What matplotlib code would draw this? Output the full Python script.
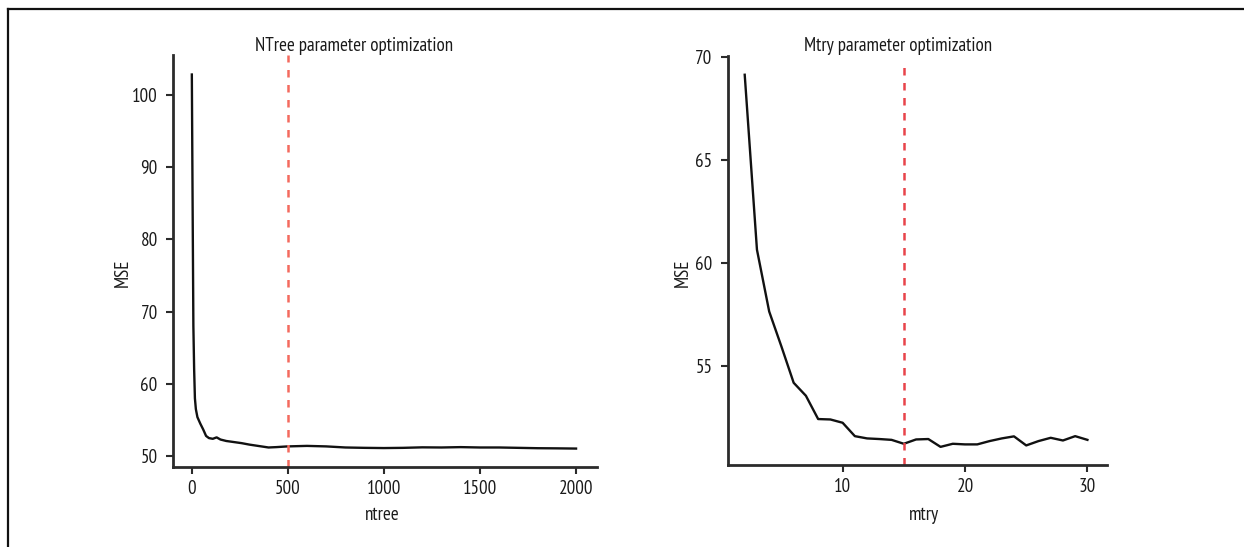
import matplotlib
matplotlib.use("Agg")
import matplotlib.pyplot as plt
from matplotlib.lines import Line2D

plt.rcParams['font.family'] = ['PT Sans Narrow', 'DejaVu Sans']

# --- data ---
ntree = [1, 5, 9, 13, 17, 22, 30, 45, 60, 75, 90, 110, 130, 150, 180, 220, 260,
         300, 350, 400, 440, 500, 600, 700, 800, 900, 1000, 1100, 1200, 1300,
         1400, 1500, 1600, 1700, 1800, 1900, 2000]
mse_ntree = [102.8, 85.0, 68.0, 62.0, 58.0, 56.5, 55.4, 54.5, 53.7, 52.8, 52.5,
             52.4, 52.6, 52.3, 52.1, 51.95, 51.8, 51.6, 51.4, 51.2, 51.25, 51.35,
             51.42, 51.35, 51.2, 51.15, 51.12, 51.15, 51.22, 51.2, 51.25, 51.2,
             51.2, 51.15, 51.1, 51.08, 51.05]
best_ntree = 500

mtry = list(range(2, 31))
mse_mtry = [69.14, 60.65, 57.65, 55.95, 54.19, 53.56, 52.43, 52.41, 52.25, 51.6,
            51.49, 51.46, 51.42, 51.23, 51.44, 51.46, 51.08, 51.23, 51.2, 51.2,
            51.36, 51.49, 51.59, 51.15, 51.36, 51.52, 51.39, 51.6, 51.42]
best_mtry = 15

left_yticks = [50, 60, 70, 80, 90, 100]
left_xticks = [0, 500, 1000, 1500, 2000]
right_yticks = [55, 60, 65, 70]
right_xticks = [10, 20, 30]

W, H = 1244, 547
fig = plt.figure(figsize=(W / 100, H / 100), dpi=100)

FS = 13.7
spine_col = '#2b2b2b'
txt_col = '#1a1a1a'


def style(ax):
    for s in ['top', 'right']:
        ax.spines[s].set_visible(False)
    for s in ['left', 'bottom']:
        ax.spines[s].set_linewidth(2.0)
        ax.spines[s].set_color(spine_col)
    ax.tick_params(axis='both', direction='out', length=5, width=1.5,
                   color=spine_col, labelsize=FS, labelcolor=txt_col, pad=6)
    ax.tick_params(axis='x', pad=4)


def labels(ax, xl, yl, xpos, ypos):
    ax.set_xlabel(xl, fontsize=FS, color=txt_col)
    ax.set_ylabel(yl, fontsize=FS, color=txt_col)
    ax.xaxis.set_label_coords(*xpos)
    ax.yaxis.set_label_coords(*ypos)
    ax.xaxis.label.set_verticalalignment('center')
    ax.yaxis.label.set_verticalalignment('center')


ax1 = fig.add_axes([173 / W, 1 - 467 / H, (597 - 173) / W, (467 - 55) / H])
ax1.plot(ntree, mse_ntree, color='#111111', lw=1.7)
ax1.axvline(best_ntree, color='#f46a5e', lw=1.8, ls=(0, (3, 3)))
ax1.set_xlim(-97, 2109)
ax1.set_ylim(48.5, 105.5)
ax1.set_xticks(left_xticks)
ax1.set_yticks(left_yticks)
style(ax1)
labels(ax1, 'ntree', 'MSE', (0.493, -0.1165), (-0.118, 0.471))

ax2 = fig.add_axes([727.7 / W, 1 - 465 / H, (1107 - 727.7) / W, (465 - 56) / H])
ax2.plot(mtry, mse_mtry, color='#111111', lw=1.7)
ax2.axvline(best_mtry, ymax=0.98, color='#e8444a', lw=1.8, ls=(0, (3, 3)))
ax2.set_xlim(0.61, 31.6)
ax2.set_ylim(50.2, 70.05)
ax2.set_xticks(right_xticks)
ax2.set_yticks(right_yticks)
style(ax2)
labels(ax2, 'mtry', 'MSE', (0.5175, -0.122), (-0.118, 0.469))

fig.text(354 / W, 1 - 46 / H, 'NTree parameter optimization', ha='center',
         va='center', fontsize=FS, color=txt_col)
fig.text(898 / W, 1 - 46 / H, 'Mtry parameter optimization', ha='center',
         va='center', fontsize=FS, color=txt_col)

# outer frame (top and left edges)
fig.add_artist(Line2D([8 / W, 1], [1 - 9 / H, 1 - 9 / H], color='#111111', lw=1.6,
                      transform=fig.transFigure))
fig.add_artist(Line2D([8 / W, 8 / W], [0, 1 - 9 / H], color='#111111', lw=1.6,
                      transform=fig.transFigure))

fig.savefig('out.png', dpi=100)
